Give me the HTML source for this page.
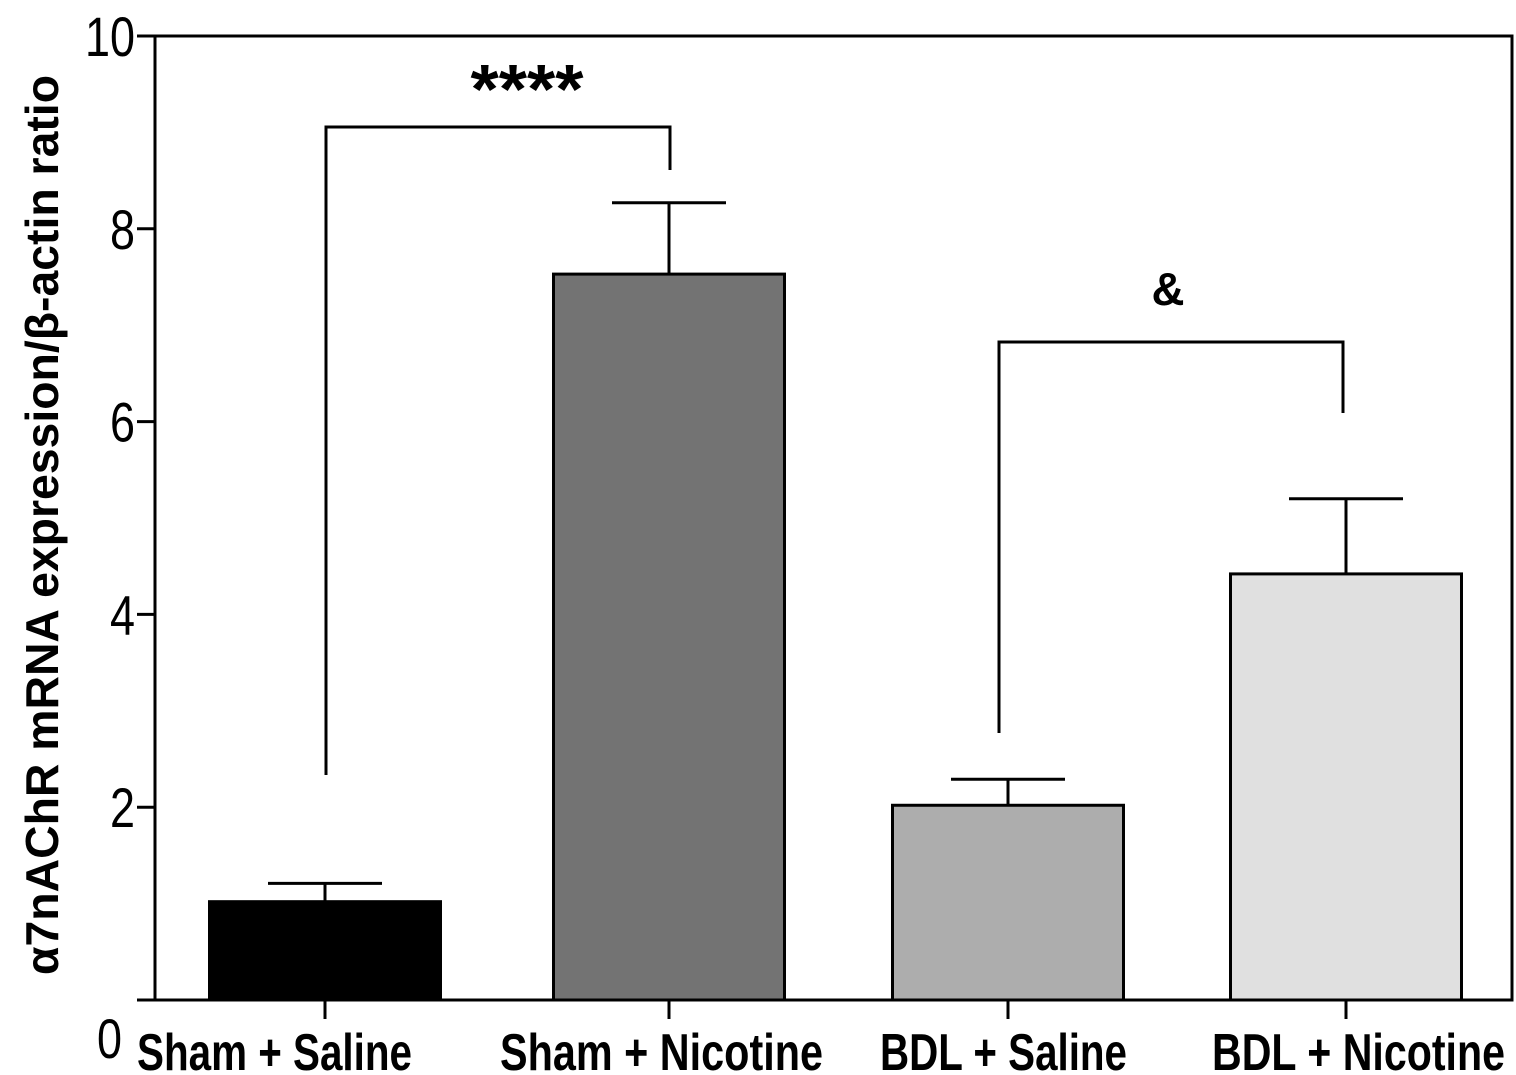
<!DOCTYPE html>
<html><head><meta charset="utf-8"><style>
html,body{margin:0;padding:0;background:#fff;}
svg{display:block;font-family:"Liberation Sans",sans-serif;}
</style></head><body>
<svg id="chart" width="1516" height="1075" viewBox="0 0 1516 1075"></svg>
<script>
const categories=["Sham + Saline","Sham + Nicotine","BDL + Saline","BDL + Nicotine"];
const means=[1.02,7.53,2.02,4.42];
const errors=[0.19,0.74,0.27,0.78];
const fills=["#000000","#737373","#adadad","#e0e0e0"];
const yTicks=[0,2,4,6,8,10];
const NS="http://www.w3.org/2000/svg";
const svg=document.getElementById('chart');
const x0=155,x1=1512,yTop=36,yBot=1000,yMax=10;
const y=v=>yBot-(v/yMax)*(yBot-yTop);
const centers=[325,669,1008,1346];
const labelStarts=[137,500,880,1212];
const labelWidths=[275,323,247,293];
const xc=i=>centers[i];
const bw=231;
function mk(t,a,txt){const e=document.createElementNS(NS,t);for(const k in a)e.setAttribute(k,a[k]);if(txt!==undefined)e.textContent=txt;svg.appendChild(e);return e;}
let f=mk('rect',{x:x0,y:yTop,width:x1-x0,height:yBot-yTop,fill:'none',stroke:'#000','stroke-width':3});


let xa=mk('line',{x1:137,y1:yBot,x2:x1,y2:yBot,stroke:'#000','stroke-width':3});


yTicks.forEach(t=>{
  if(t>0){const l=mk('line',{x1:137,y1:y(t),x2:x0,y2:y(t),stroke:'#000','stroke-width':3});
  
  }
  const s=String(t);
  const w=s.length*25;
  const tx=mk('text',{x:t==0?122:135,y:t==0?1058:y(t)+20,'text-anchor':'end','font-size':56,fill:'#000',textLength:w,lengthAdjust:'spacingAndGlyphs'},s);
  
  
});
categories.forEach((c,i)=>{
  const cx=xc(i);
  const r=mk('rect',{x:cx-bw/2,y:y(means[i]),width:bw,height:yBot-y(means[i]),fill:fills[i],stroke:'#000','stroke-width':3});
  
  
  const e1=mk('line',{x1:cx,y1:y(means[i]),x2:cx,y2:y(means[i]+errors[i]),stroke:'#000','stroke-width':3});
  
  
  const e2=mk('line',{x1:cx-57,y1:y(means[i]+errors[i]),x2:cx+57,y2:y(means[i]+errors[i]),stroke:'#000','stroke-width':3});
  
  
  const tk=mk('line',{x1:cx,y1:yBot,x2:cx,y2:1019,stroke:'#000','stroke-width':3});
  
  
  const lb=mk('text',{x:labelStarts[i],y:1070,'text-anchor':'start','font-size':52,'font-weight':'bold',fill:'#000',textLength:labelWidths[i],lengthAdjust:'spacingAndGlyphs'},c);
  
  
});
function bracket(xa_,ya,xb,yb,ytop,label,lx,ly,lw,fs,name){
  const p=mk('polyline',{points:`${xa_},${ya} ${xa_},${ytop} ${xb},${ytop} ${xb},${yb}`,fill:'none',stroke:'#000','stroke-width':3});
  
  
  const t=mk('text',{x:lx,y:ly,'text-anchor':'middle','font-size':fs,'font-weight':'bold',fill:'#000',textLength:lw,lengthAdjust:'spacingAndGlyphs'},label);
  
  
}
bracket(326,775,670,170,127,'****',527,113,113,70,'significance-bracket-sham');
bracket(999,733,1343,413,342,'&',1168,305,33,46,'significance-bracket-bdl');
const yt=mk('text',{x:0,y:0,transform:'translate(58,525) rotate(-90)','text-anchor':'middle','font-size':46,'font-weight':'bold',fill:'#000',textLength:900,lengthAdjust:'spacingAndGlyphs'},'α7nAChR mRNA expression/β-actin ratio');


</script>
</body></html>
